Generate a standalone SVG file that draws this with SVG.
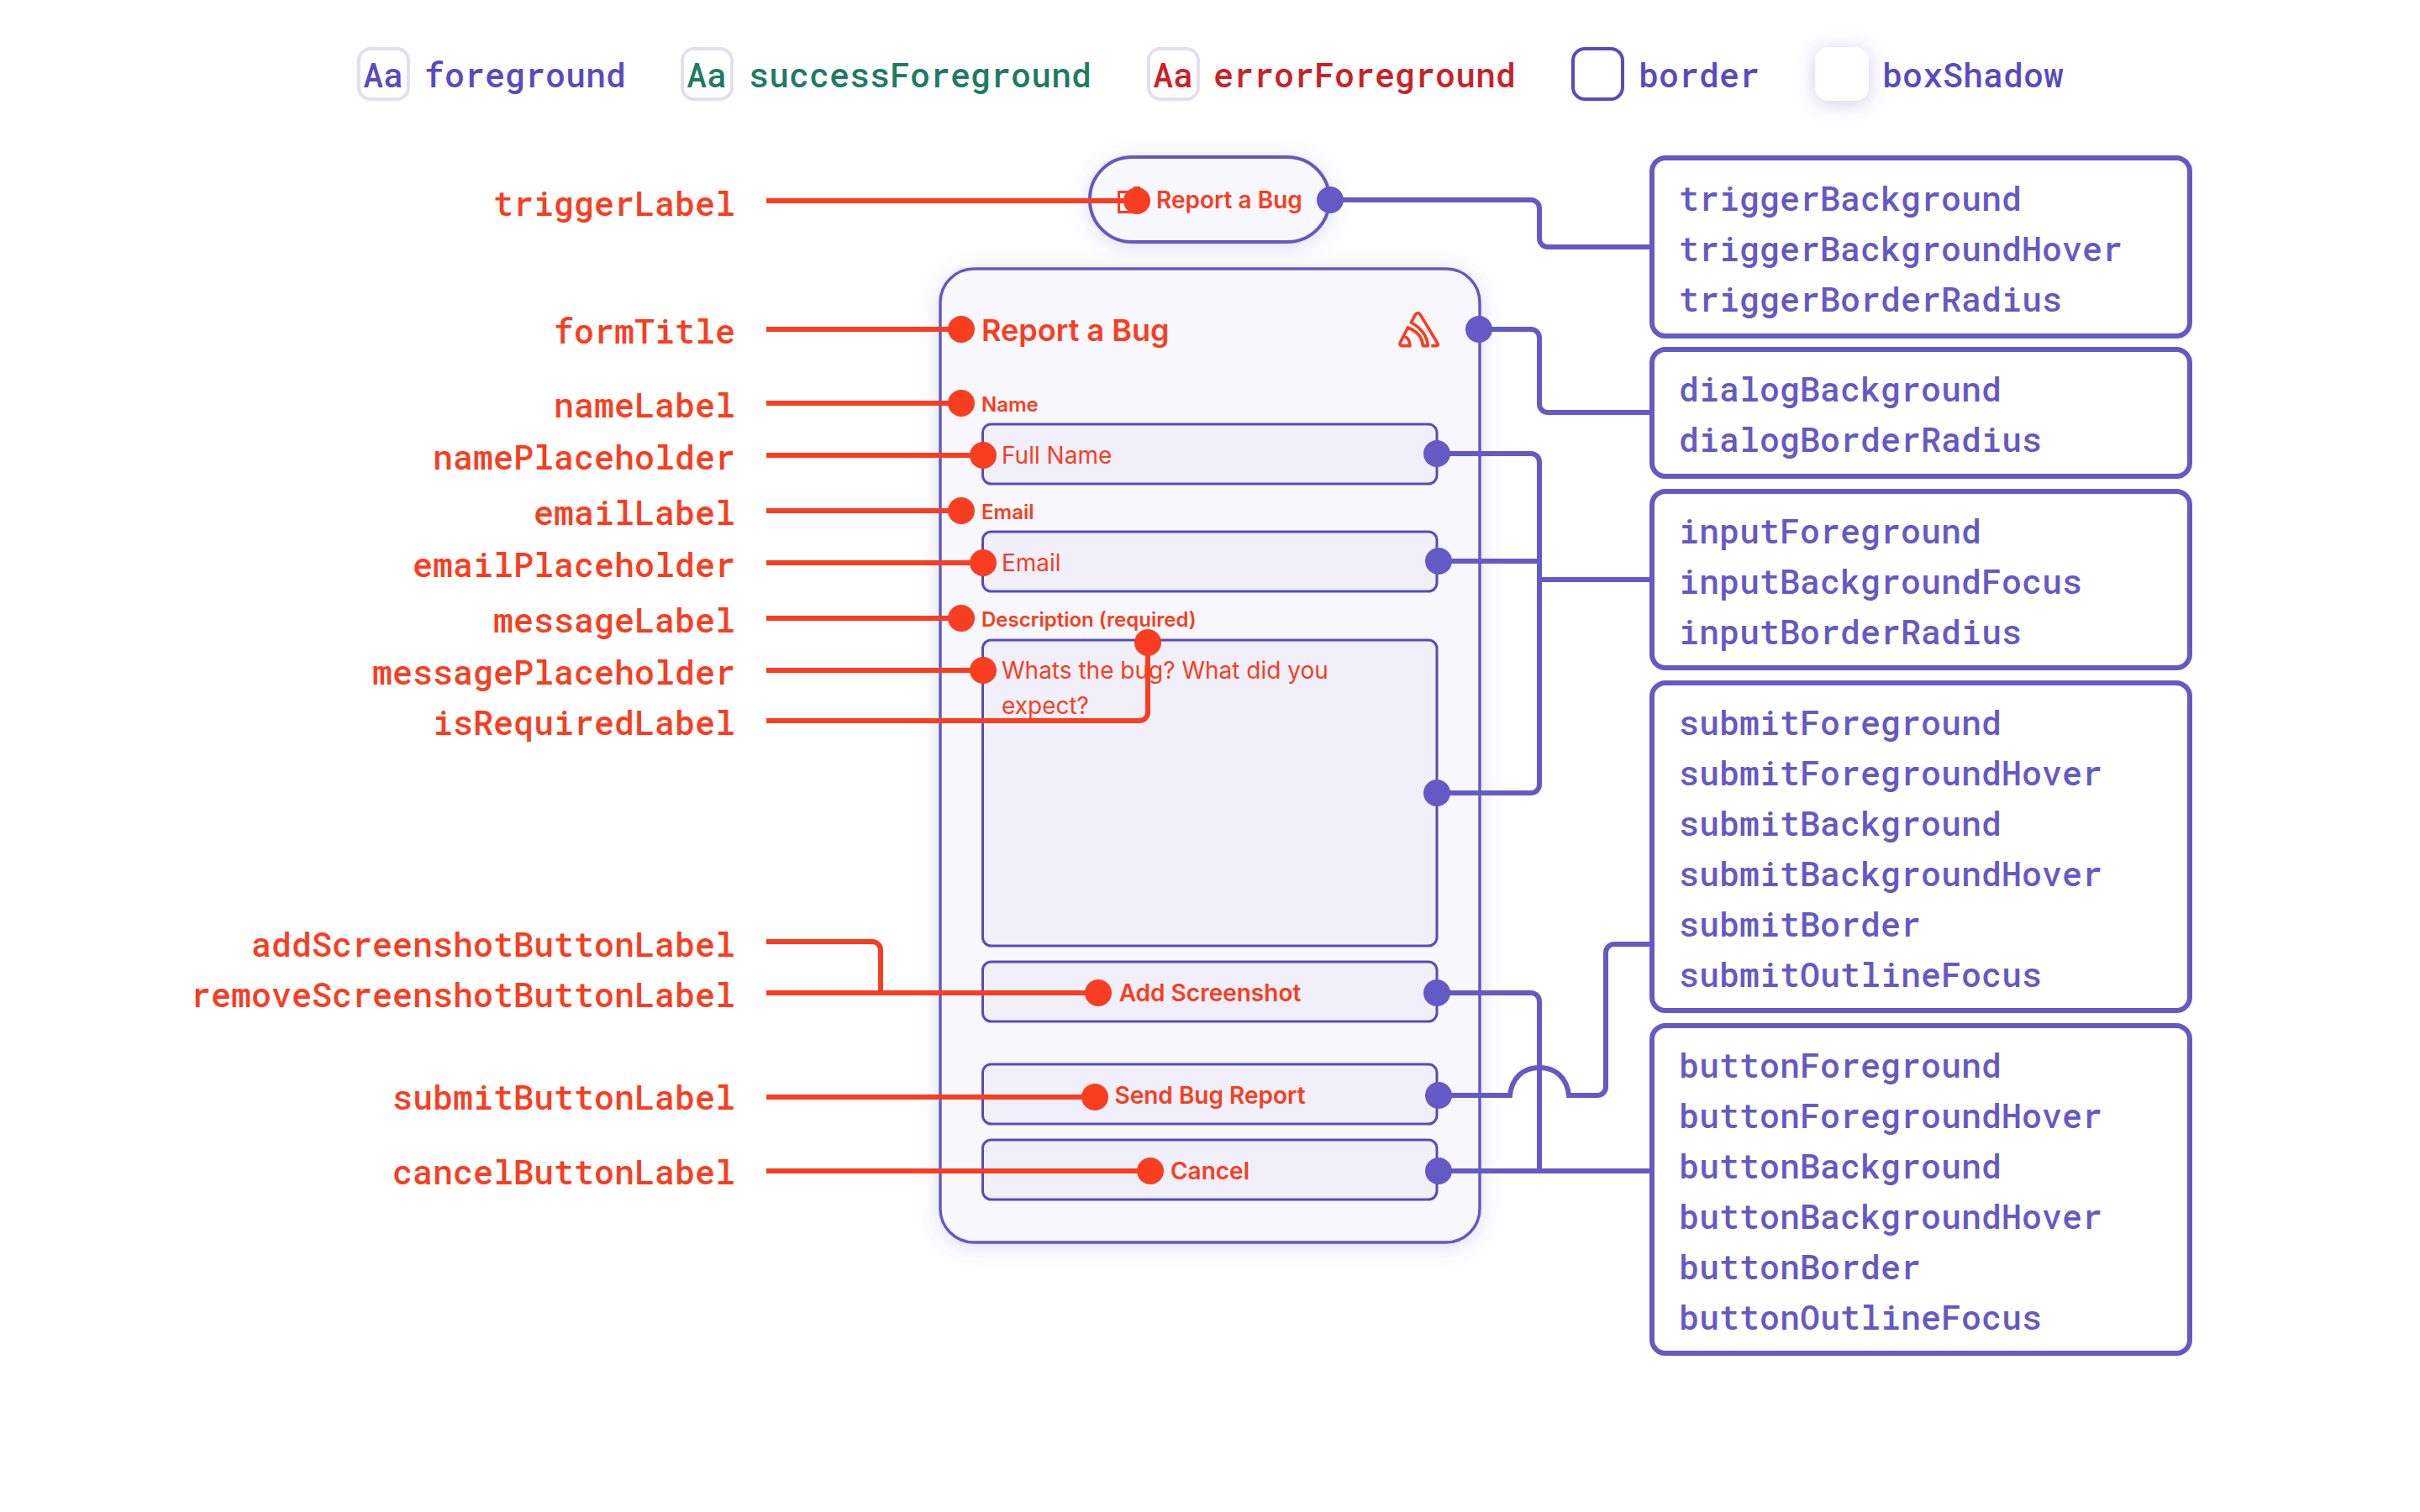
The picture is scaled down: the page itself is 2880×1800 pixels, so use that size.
<svg xmlns="http://www.w3.org/2000/svg" width="2880" height="1800" viewBox="0 0 2880 1800">
<style>
.mono{font-family:"Roboto Mono","DejaVu Sans Mono","Liberation Mono",monospace;font-size:40px;font-weight:500}
.sans{font-family:Inter,"Noto Sans",sans-serif;fill:#f93d20}
.lbl{fill:#f93d20;text-anchor:end}
.tok{fill:#6559c5}
.fg{fill:#584ac0}
.ok{fill:#1f7a64}
.err{fill:#cc2026}
.box{fill:#fff;stroke:#6559c5;stroke-width:6}
.inp{fill:#f1f0fa;stroke:#584ac0;stroke-width:3}
.swatch{fill:#fff;stroke:#e2dfee;stroke-width:4}
.r{fill:none;stroke:#f93d20;stroke-width:6}
.p{fill:none;stroke:#6559c5;stroke-width:6}
.rd{fill:#f93d20}
.pd{fill:#6559c5}
</style>
<defs>
<filter id="glow" x="-20%" y="-20%" width="140%" height="140%"><feDropShadow dx="0" dy="4" stdDeviation="12" flood-color="#5560d8" flood-opacity="0.22"/></filter>
<filter id="glow2" x="-80%" y="-80%" width="260%" height="260%"><feDropShadow dx="0" dy="3" stdDeviation="11" flood-color="#6559c5" flood-opacity="0.32"/></filter>
</defs>
<rect width="2880" height="1800" fill="#fff"/>
<g id="legend">
<g id="legend-foreground"><rect class="swatch" x="427" y="58" width="59" height="60" rx="14"/><text class="mono fg" x="432" y="104">Aa</text><text class="mono fg" x="505" y="104">foreground</text></g>
<g id="legend-success"><rect class="swatch" x="812" y="58" width="59" height="60" rx="14"/><text class="mono ok" x="817" y="104">Aa</text><text class="mono ok" x="891" y="104">successForeground</text></g>
<g id="legend-error"><rect class="swatch" x="1367" y="58" width="59" height="60" rx="14"/><text class="mono err" x="1372" y="104">Aa</text><text class="mono err" x="1444" y="104">errorForeground</text></g>
<g id="legend-border"><rect x="1872" y="58" width="59" height="60" rx="14" fill="#fff" stroke="#584ac0" stroke-width="4"/><text class="mono fg" x="1950" y="104">border</text></g>
<g id="legend-shadow"><rect x="2160" y="56" width="64" height="64" rx="16" fill="#fff" filter="url(#glow2)"/><text class="mono fg" x="2240" y="104">boxShadow</text></g>
</g>
<g id="trigger"><rect x="1297" y="187" width="285" height="101" rx="50" fill="#f7f7fe" stroke="#6559c5" stroke-width="4" filter="url(#glow)"/>
<rect x="1331.500" y="228.500" width="18" height="24" fill="none" stroke="#f93d20" stroke-width="3"/><rect x="1349" y="222" width="8" height="6" fill="#f93d20"/>
<text class="sans" x="1376" y="248" font-size="28" font-weight="600">Report a Bug</text></g>
<g id="dialog"><rect x="1119" y="320" width="642" height="1159" rx="40" fill="#f8f7fd" stroke="#6559c5" stroke-width="3.500" filter="url(#glow)"/>
<text class="sans" x="1168" y="406" font-size="36" font-weight="600">Report a Bug</text>
<g id="logo" transform="translate(1650 360) scale(.3333)"><path d="M160 155H176Q188 155 182 145L121 44Q112 32 103 44L88 72C122 90 146 120 148 155H130C128 125 108 102 76 90L50 142Q44 155 56 155H84C84 138 74 124 60 118" fill="none" stroke="#f93d20" stroke-width="11" stroke-linejoin="round"/></g>
<text class="sans" x="1168" y="490" font-size="24" font-weight="600">Name</text>
<text class="sans" x="1168" y="618" font-size="24" font-weight="600">Email</text>
<text class="sans" x="1168" y="746" font-size="24" font-weight="600">Description (required)</text>
</g>
<g id="nameInput"><rect class="inp" x="1169.500" y="505" width="540.500" height="71" rx="10"/><text class="sans" x="1192" y="552" font-size="28">Full Name</text></g>
<g id="emailInput"><rect class="inp" x="1169.500" y="633" width="540.500" height="71" rx="10"/><text class="sans" x="1192" y="680" font-size="28">Email</text></g>
<g id="messageInput"><rect class="inp" x="1169.500" y="762" width="540.500" height="364" rx="10"/><text class="sans" x="1192" y="808" font-size="28">Whats the bug? What did you</text><text class="sans" x="1192" y="850" font-size="28">expect?</text></g>
<g id="addButton"><rect class="inp" x="1169.500" y="1145" width="540.500" height="71" rx="10"/><text class="sans" x="1440" y="1192" font-size="28" font-weight="600" text-anchor="middle">Add Screenshot</text></g>
<g id="sendButton"><rect class="inp" x="1169.500" y="1267" width="540.500" height="71" rx="10"/><text class="sans" x="1440" y="1314" font-size="28" font-weight="600" text-anchor="middle">Send Bug Report</text></g>
<g id="cancelButton"><rect class="inp" x="1169.500" y="1357" width="540.500" height="71" rx="10"/><text class="sans" x="1440" y="1404" font-size="28" font-weight="600" text-anchor="middle">Cancel</text></g>
<g id="labels" class="mono">
<text class="lbl" x="875" y="257">triggerLabel</text>
<text class="lbl" x="875" y="409">formTitle</text>
<text class="lbl" x="875" y="497">nameLabel</text>
<text class="lbl" x="875" y="559">namePlaceholder</text>
<text class="lbl" x="875" y="625">emailLabel</text>
<text class="lbl" x="875" y="687">emailPlaceholder</text>
<text class="lbl" x="875" y="753">messageLabel</text>
<text class="lbl" x="875" y="815">messagePlaceholder</text>
<text class="lbl" x="875" y="875">isRequiredLabel</text>
<text class="lbl" x="875" y="1139">addScreenshotButtonLabel</text>
<text class="lbl" x="875" y="1199">removeScreenshotButtonLabel</text>
<text class="lbl" x="875" y="1321">submitButtonLabel</text>
<text class="lbl" x="875" y="1410">cancelButtonLabel</text>
</g>
<g id="box-trigger"><rect class="box" x="1966" y="188" width="640" height="212" rx="16"/><g class="mono tok"><text x="1998" y="251">triggerBackground</text><text x="1998" y="311">triggerBackgroundHover</text><text x="1998" y="371">triggerBorderRadius</text></g></g>
<g id="box-dialog"><rect class="box" x="1966" y="416" width="640" height="151" rx="16"/><g class="mono tok"><text x="1998" y="478">dialogBackground</text><text x="1998" y="538">dialogBorderRadius</text></g></g>
<g id="box-input"><rect class="box" x="1966" y="585" width="640" height="210" rx="16"/><g class="mono tok"><text x="1998" y="647">inputForeground</text><text x="1998" y="707">inputBackgroundFocus</text><text x="1998" y="767">inputBorderRadius</text></g></g>
<g id="box-submit"><rect class="box" x="1966" y="813" width="640" height="390" rx="16"/><g class="mono tok"><text x="1998" y="875">submitForeground</text><text x="1998" y="935">submitForegroundHover</text><text x="1998" y="995">submitBackground</text><text x="1998" y="1055">submitBackgroundHover</text><text x="1998" y="1115">submitBorder</text><text x="1998" y="1175">submitOutlineFocus</text></g></g>
<g id="box-button"><rect class="box" x="1966" y="1221" width="640" height="390" rx="16"/><g class="mono tok"><text x="1998" y="1283">buttonForeground</text><text x="1998" y="1343">buttonForegroundHover</text><text x="1998" y="1403">buttonBackground</text><text x="1998" y="1463">buttonBackgroundHover</text><text x="1998" y="1523">buttonBorder</text><text x="1998" y="1583">buttonOutlineFocus</text></g></g>
<g id="connectors">
<path class="r" d="M912 239H1353"/><path class="r" d="M912 392H1144"/><path class="r" d="M912 480H1144"/><path class="r" d="M912 542H1170"/><path class="r" d="M912 608H1144"/><path class="r" d="M912 670H1170"/><path class="r" d="M912 736H1144"/><path class="r" d="M912 798H1170"/>
<path class="r" d="M912 858H1356a10 10 0 0 0 10-10V765"/>
<path class="r" d="M912 1121H1038a10 10 0 0 1 10 10V1182"/><path class="r" d="M912 1182H1307"/><path class="r" d="M912 1306H1303"/><path class="r" d="M912 1394H1369"/>
<path class="p" d="M1583 238H1822a10 10 0 0 1 10 10V284a10 10 0 0 0 10 10H1966"/>
<path class="p" d="M1760 392H1822a10 10 0 0 1 10 10V481a10 10 0 0 0 10 10H1966"/>
<path class="p" d="M1710 540H1822a10 10 0 0 1 10 10V934a10 10 0 0 1-10 10H1710"/>
<path class="p" d="M1712 668H1832"/><path class="p" d="M1832 690H1966"/>
<path class="p" d="M1710 1182H1822a10 10 0 0 1 10 10V1394"/>
<path class="p" d="M1712 1394H1966"/>
<path class="p" d="M1712 1304H1797C1799 1284 1812 1271 1832 1271S1865 1284 1867 1304H1901a10 10 0 0 0 10-10V1134a10 10 0 0 1 10-10H1966"/>
<g class="rd"><circle cx="1353" cy="239" r="16"/><circle cx="1144" cy="392" r="16"/><circle cx="1144" cy="480" r="16"/><circle cx="1170" cy="542" r="16"/><circle cx="1144" cy="608" r="16"/><circle cx="1170" cy="670" r="16"/><circle cx="1144" cy="736" r="16"/><circle cx="1170" cy="798" r="16"/><circle cx="1366" cy="765" r="16"/><circle cx="1307" cy="1182" r="16"/><circle cx="1303" cy="1306" r="16"/><circle cx="1369" cy="1394" r="16"/></g>
<g class="pd"><circle cx="1583" cy="238" r="16"/><circle cx="1760" cy="392" r="16"/><circle cx="1710" cy="540" r="16"/><circle cx="1712" cy="668" r="16"/><circle cx="1710" cy="944" r="16"/><circle cx="1710" cy="1182" r="16"/><circle cx="1712" cy="1304" r="16"/><circle cx="1712" cy="1394" r="16"/></g>
</g>
</svg>
